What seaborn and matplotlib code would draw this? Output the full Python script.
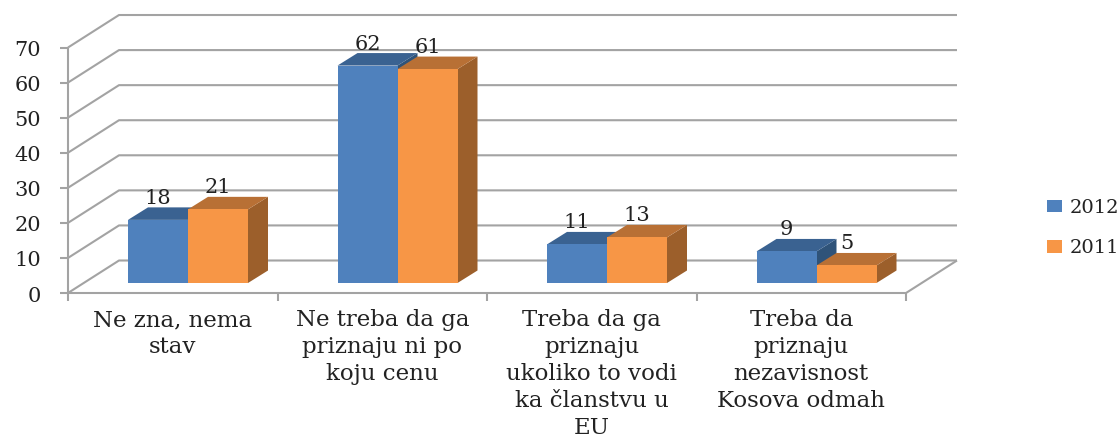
import matplotlib
matplotlib.use("Agg")
import matplotlib.pyplot as plt
from matplotlib.patches import Polygon
import pandas as pd
import seaborn as sns

# chart values
categories = ["Ne zna, nema\nstav",
              "Ne treba da ga\npriznaju ni po\nkoju cenu",
              "Treba da ga\npriznaju\nukoliko to vodi\nka članstvu u\nEU",
              "Treba da\npriznaju\nnezavisnost\nKosova odmah"]
values_2012 = [18, 62, 11, 9]
values_2011 = [21, 61, 13, 5]
years = ["2012", "2011"]
y_ticks = [0, 10, 20, 30, 40, 50, 60, 70]

# colours: front, top, side
colors = {"2012": ("#4F81BD", "#3A6291", "#2F5379"),
          "2011": ("#F79646", "#B87035", "#9C5F2B")}
grid_color = "#A3A3A3"
text_color = "#222222"
font = "DejaVu Serif"

df = pd.DataFrame({
    "cat": categories * 2,
    "val": values_2012 + values_2011,
    "year": [years[0]] * 4 + [years[1]] * 4,
})

W, H = 1120, 446
cat_px = 209.5     # pixels per category
val_px = 3.507     # pixels per unit
x_org, y_org = 188, 283   # where category 0 / value 0 of the bars falls


def px_x(n):
    return n / cat_px


def px_y(n):
    return n / val_px


sns.set_theme(style="white")
plt.rcParams["font.family"] = [font]

fig = plt.figure(figsize=(W / 100, H / 100), dpi=100)
ax = fig.add_axes([0, 0, 1, 1])

sns.barplot(data=df, x="cat", y="val", hue="year", hue_order=years,
            palette={y: colors[y][0] for y in years}, saturation=1,
            width=120 / cat_px, gap=0, linewidth=0, ax=ax, zorder=5)
ax.set_xlim(px_x(-x_org), px_x(W - x_org))
ax.set_ylim(px_y(y_org - H), px_y(y_org))

# axis box: front edge, back wall offset
x_left = px_x(68 - x_org)
x_right = x_left + len(categories)
y_floor = px_y(-10)
back_dx, back_dy = px_x(51), px_y(32.5)
lw = 1.5
line = dict(color=grid_color, lw=lw, solid_capstyle="butt", zorder=1)

for t in y_ticks:
    ax.plot([x_left, x_left + back_dx, x_right + back_dx],
            [y_floor + t, y_floor + t + back_dy, y_floor + t + back_dy], **line)
    ax.plot([x_left - px_x(8), x_left], [y_floor + t, y_floor + t], **line)
    ax.text(x_left - px_x(27), y_floor + t - px_y(3), str(t), ha="right", va="center",
            fontsize=15, color=text_color, family=font)

ax.plot([x_left, x_left], [y_floor, y_floor + y_ticks[-1]], **line)
ax.plot([x_left, x_right, x_right + back_dx],
        [y_floor, y_floor, y_floor + back_dy], **line)
for i in range(len(categories) + 1):
    ax.plot([x_left + i, x_left + i], [y_floor, y_floor - px_y(8)], **line)

# depth of the bars, built from the bars seaborn drew
depth_x, depth_y = px_x(20), px_y(12.5)
for s, (year, cont) in enumerate(zip(years, ax.containers)):
    for bar in cont:
        x0, w, h = bar.get_x(), bar.get_width(), bar.get_height()
        top = Polygon([(x0, h), (x0 + depth_x, h + depth_y),
                       (x0 + w + depth_x, h + depth_y), (x0 + w, h)],
                      facecolor=colors[year][1], edgecolor="none", zorder=2 + s)
        side = Polygon([(x0 + w, 0), (x0 + w + depth_x, depth_y),
                        (x0 + w + depth_x, h + depth_y), (x0 + w, h)],
                       facecolor=colors[year][2], edgecolor="none", zorder=2 + s)
        ax.add_patch(side)
        ax.add_patch(top)
        ax.text(x0 + w / 2, h + depth_y + px_y(9), f"{h:.0f}", ha="center", va="center",
                fontsize=15, color=text_color, family=font, zorder=6)

# category labels
for i, lab in enumerate(categories):
    ax.text(x_left + i + 0.5, y_floor - px_y(16), lab,
            ha="center", va="top", fontsize=16.5, linespacing=1.29,
            color=text_color, family=font)

leg = ax.legend(loc="center left", bbox_to_anchor=(1047 / W, 1 - 228 / H),
                bbox_transform=fig.transFigure, frameon=False, fontsize=14,
                handlelength=0.77, handleheight=0.62, handletextpad=0.4,
                labelspacing=1.15, borderpad=0, borderaxespad=0,
                labelcolor=text_color)
ax.set_axis_off()

fig.savefig("out.png", dpi=100)
